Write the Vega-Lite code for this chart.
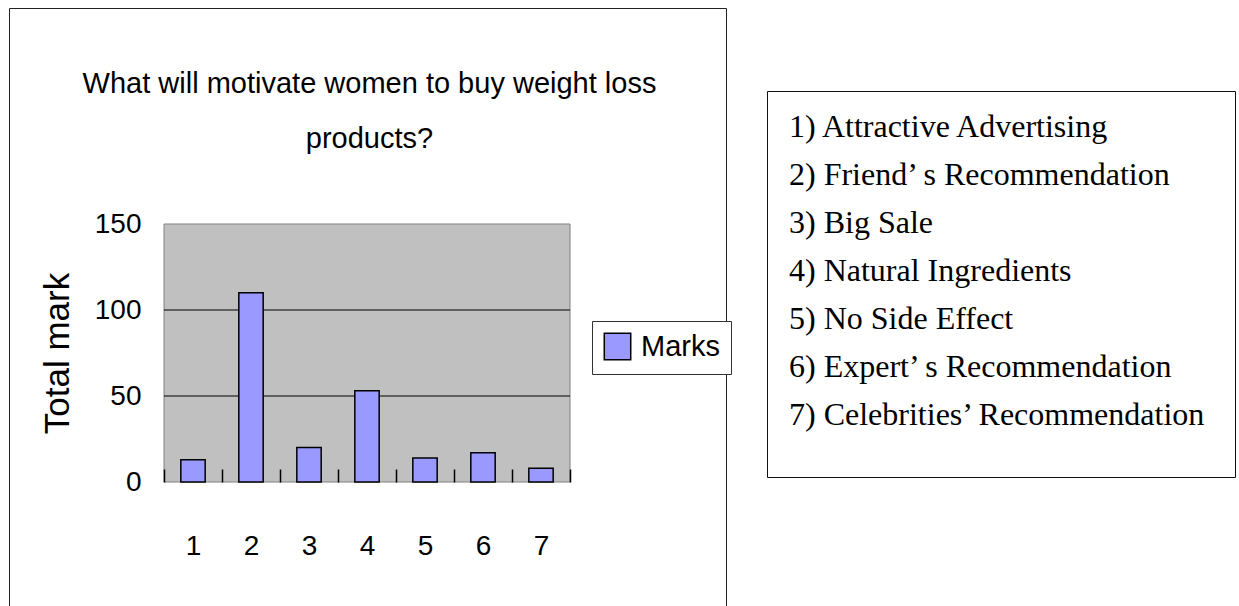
{
  "$schema": "https://vega.github.io/schema/vega-lite/v6.json",
  "width": 717,
  "height": 600,
  "autosize": {"type": "none"},
  "padding": {"left": 9, "top": 8, "right": 513, "bottom": 0},
  "background": "white",
  "title": {
    "text": ["What will motivate women to buy weight loss", "products?"],
    "font": "Liberation Sans, Arial, sans-serif",
    "fontSize": 29,
    "fontWeight": "normal",
    "color": "black",
    "lineHeight": 55,
    "anchor": "middle",
    "frame": "group",
    "offset": -146,
    "dx": 2
  },
  "config": {
    "view": {"stroke": "#222222", "strokeWidth": 1, "fill": "white"},
    "font": "Liberation Sans, Arial, sans-serif"
  },
  "data": {
    "values": [
      {"n": "1", "item": "1) Attractive Advertising", "marks": 13, "series": "Marks"},
      {"n": "2", "item": "2) Friend’ s Recommendation", "marks": 110, "series": "Marks"},
      {"n": "3", "item": "3) Big Sale", "marks": 20, "series": "Marks"},
      {"n": "4", "item": "4) Natural Ingredients", "marks": 53, "series": "Marks"},
      {"n": "5", "item": "5) No Side Effect", "marks": 14, "series": "Marks"},
      {"n": "6", "item": "6) Expert’ s Recommendation", "marks": 17, "series": "Marks"},
      {"n": "7", "item": "7) Celebrities’  Recommendation", "marks": 8, "series": "Marks"}
    ]
  },
  "resolve": {"scale": {"x": "independent"}},
  "layer": [
    {
      "data": {"values": [{}]},
      "mark": {"type": "rect", "fill": "#C0C0C0", "stroke": "#808080", "strokeWidth": 1},
      "encoding": {
        "x": {"datum": 0, "type": "quantitative", "scale": {"domain": [0, 1], "range": [155, 561]}, "axis": null},
        "x2": {"datum": 1},
        "y": {"datum": 0, "type": "quantitative"},
        "y2": {"datum": 150}
      }
    },
    {
      "data": {"values": [{}]},
      "mark": {"type": "rule", "color": "black", "strokeWidth": 1},
      "encoding": {
        "x": {"datum": 0, "type": "quantitative", "scale": {"domain": [0, 1], "range": [155, 561]}, "axis": null},
        "x2": {"datum": 1},
        "y": {"datum": 50, "type": "quantitative"}
      }
    },
    {
      "data": {"values": [{}]},
      "mark": {"type": "rule", "color": "black", "strokeWidth": 1},
      "encoding": {
        "x": {"datum": 0, "type": "quantitative", "scale": {"domain": [0, 1], "range": [155, 561]}, "axis": null},
        "x2": {"datum": 1},
        "y": {"datum": 100, "type": "quantitative"}
      }
    },
    {
      "mark": {"type": "bar", "stroke": "black", "strokeWidth": 1.5, "width": {"band": 0.42}},
      "encoding": {
        "x": {
          "field": "n",
          "type": "ordinal",
          "scale": {"range": [155, 561], "paddingInner": 0, "paddingOuter": 0},
          "axis": {
            "orient": "bottom",
            "offset": -126,
            "zindex": 2,
            "title": null,
            "labelAngle": 0,
            "domain": false,
            "tickBand": "extent",
            "tickSize": -13,
            "tickColor": "black",
            "tickWidth": 1.5,
            "labelFont": "Liberation Sans, Arial, sans-serif",
            "labelFontSize": 28,
            "labelColor": "black",
            "labelPadding": 63
          }
        },
        "y": {
          "field": "marks",
          "type": "quantitative",
          "scale": {"domain": [0, 150], "range": [474, 216], "nice": false},
          "axis": {
            "orient": "left",
            "offset": -155,
            "title": "Total mark",
            "grid": false,
            "domain": false,
            "ticks": false,
            "values": [0, 50, 100, 150],
            "labelFont": "Liberation Sans, Arial, sans-serif",
            "labelFontSize": 28,
            "labelColor": "black",
            "labelPadding": 23,
            "titleFont": "Liberation Sans, Arial, sans-serif",
            "titleFontSize": 35,
            "titleFontWeight": "normal",
            "titleColor": "black",
            "titlePadding": 19
          }
        },
        "color": {
          "field": "series",
          "type": "nominal",
          "scale": {"range": ["#9999FF"]},
          "legend": {
            "orient": "none",
            "legendX": 583,
            "legendY": 313,
            "title": null,
            "strokeColor": "#333333",
            "fillColor": "white",
            "padding": 11,
            "symbolType": "square",
            "symbolSize": 700,
            "symbolStrokeColor": "black",
            "symbolStrokeWidth": 1.5,
            "labelFont": "Liberation Sans, Arial, sans-serif",
            "labelFontSize": 29,
            "labelColor": "black",
            "labelOffset": 9
          }
        },
        "strokeDash": {
          "field": "item",
          "type": "nominal",
          "scale": {"range": [[1, 0], [1, 0], [1, 0], [1, 0], [1, 0], [1, 0], [1, 0]]},
          "legend": {
            "orient": "none",
            "legendX": 758,
            "legendY": 83,
            "title": " ",
            "titleOrient": "bottom",
            "titleFontSize": 20,
            "titlePadding": 6,
            "strokeColor": "#111111",
            "fillColor": "white",
            "padding": 20,
            "symbolSize": 0,
            "symbolOpacity": 0,
            "symbolStrokeWidth": 0,
            "labelOffset": -30,
            "labelFont": "Liberation Serif, Times New Roman, serif",
            "labelFontSize": 32,
            "labelColor": "black",
            "labelLimit": 1000,
            "rowPadding": 16
          }
        }
      }
    }
  ]
}
